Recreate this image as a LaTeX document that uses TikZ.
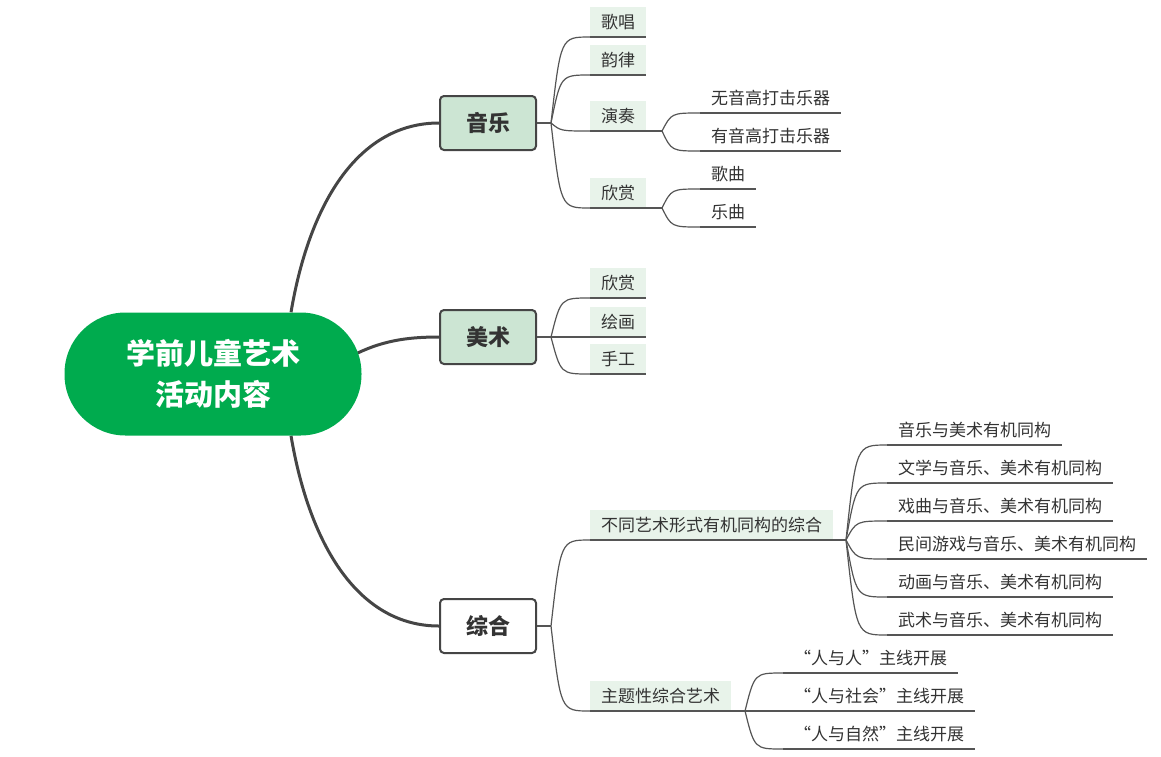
\documentclass[tikz,border=0pt]{standalone}
\usepackage{fontspec}
\setmainfont{Noto Sans CJK SC}
\usetikzlibrary{calc,backgrounds}
\definecolor{rootgreen}{HTML}{00AB4E}
\definecolor{lonefill}{HTML}{CCE5D3}
\definecolor{ltwofill}{HTML}{E8F3EA}
\definecolor{linegray}{HTML}{454545}
\definecolor{thingray}{HTML}{555555}
\definecolor{textgray}{HTML}{333333}
\tikzset{
  rootbox/.style={rectangle, rounded corners=61pt, fill=rootgreen, minimum width=297pt, minimum height=123pt, text=white, font=\fontsize{29}{41}\selectfont\bfseries, align=center, inner sep=0pt},
  lonebox/.style={rectangle, rounded corners=4pt, draw=linegray, line width=2pt, fill=lonefill, minimum width=96pt, minimum height=54pt, font=\fontsize{22}{26}\selectfont\bfseries, text=textgray, inner sep=0pt},
  ltwobox/.style={rectangle, fill=ltwofill, anchor=south west, minimum height=30pt, inner xsep=11pt, inner ysep=0pt, font=\fontsize{17}{20}\selectfont, text=textgray},
  lthree/.style={ltwobox, fill=none},
  bigconn/.style={draw=linegray, line width=3pt},
  smallconn/.style={draw=thingray, line width=1.2pt},
}
\newcommand\twig[2]{\draw[smallconn] let \p1=(#1), \p2=(#2) in (\p1) .. controls (\x1+0.25*\x2-0.25*\x1,\y2) .. (\p2);}
\newcommand\uline[1]{\draw[smallconn] (#1.south west) -- (#1.south east);}
\begin{document}
\begin{tikzpicture}[x=1pt,y=-1pt]
\useasboundingbox (0,0) rectangle (1161,756);
% root and level 1
\node[rootbox] (root) at (213,374) {学前儿童艺术\\活动内容};
\node[lonebox] (music) at (488,123) {音乐};
\node[lonebox] (art) at (488,337) {美术};
\node[lonebox, fill=white] (synth) at (488,626) {综合};
\begin{scope}[on background layer]
  \coordinate (r1) at ($(root.north)+(78,0)$);
  \coordinate (r2) at ($(root.east)+(-4,-21)$);
  \coordinate (r3) at ($(root.south)+(78,0)$);
  \draw[bigconn] (r1) .. controls (310,200) and (360,123) .. (music.west);
  \draw[bigconn] (r2) .. controls (385,340) and (410,337) .. (art.west);
  \draw[bigconn] (r3) .. controls (310,548) and (360,626) .. (synth.west);
\end{scope}
% branch points
\coordinate (bm) at (551,123);
\coordinate (ba) at (551,337);
\coordinate (bs) at (551,626);
\draw[smallconn] (music.east) -- (bm);
\draw[smallconn] (art.east) -- (ba);
\draw[smallconn] (synth.east) -- (bs);
% level 2 music
\node[ltwobox] (sing) at (590,37) {歌唱};
\node[ltwobox] (rhythm) at (590,75) {韵律};
\node[ltwobox] (play) at (590,131) {演奏};
\node[ltwobox] (appr) at (590,208) {欣赏};
% level 2 art
\node[ltwobox] (arta) at (590,298) {欣赏};
\node[ltwobox] (artb) at (590,337) {绘画};
\node[ltwobox] (artc) at (590,374) {手工};
% level 2 synth
\node[ltwobox] (syna) at (590,540) {不同艺术形式有机同构的综合};
\node[ltwobox] (synb) at (590,711) {主题性综合艺术};
\foreach \k in {sing,rhythm,play,appr}{\twig{bm}{\k.south west}}
\foreach \k in {arta,artb,artc}{\twig{ba}{\k.south west}}
\foreach \k in {syna,synb}{\twig{bs}{\k.south west}}
\foreach \k in {sing,rhythm,arta,artb,artc}{\uline{\k}}
% level 3 branch points
\coordinate (bp) at (662,131);
\coordinate (bq) at (662,208);
\coordinate (bu) at (846,540);
\coordinate (bv) at (745,711);
\draw[smallconn] (play.south west) -- (bp);
\draw[smallconn] (appr.south west) -- (bq);
\draw[smallconn] (syna.south west) -- (bu);
\draw[smallconn] (synb.south west) -- (bv);
% level 3 nodes
\node[lthree] (pa) at (700,113) {无音高打击乐器};
\node[lthree] (pb) at (700,151) {有音高打击乐器};
\node[lthree] (qa) at (700,189) {歌曲};
\node[lthree] (qb) at (700,227) {乐曲};
\node[lthree] (ua) at (887,445) {音乐与美术有机同构};
\node[lthree] (ub) at (887,483) {文学与音乐、美术有机同构};
\node[lthree] (uc) at (887,521) {戏曲与音乐、美术有机同构};
\node[lthree] (ud) at (887,559) {民间游戏与音乐、美术有机同构};
\node[lthree] (ue) at (887,597) {动画与音乐、美术有机同构};
\node[lthree] (uf) at (887,635) {武术与音乐、美术有机同构};
\node[lthree] (va) at (783,673) {“人与人”主线开展};
\node[lthree] (vb) at (783,711) {“人与社会”主线开展};
\node[lthree] (vc) at (783,749) {“人与自然”主线开展};
\foreach \k in {pa,pb}{\twig{bp}{\k.south west}\uline{\k}}
\foreach \k in {qa,qb}{\twig{bq}{\k.south west}\uline{\k}}
\foreach \k in {ua,ub,uc,ud,ue,uf}{\twig{bu}{\k.south west}\uline{\k}}
\foreach \k in {va,vb,vc}{\twig{bv}{\k.south west}\uline{\k}}
\end{tikzpicture}
\end{document}
